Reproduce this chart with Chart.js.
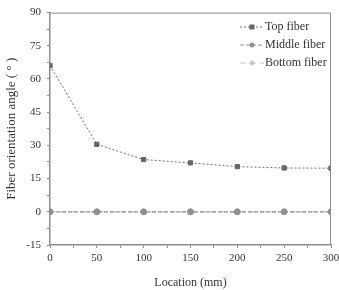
<!DOCTYPE html>
<html>
<head>
<meta charset="utf-8">
<script src="https://cdn.jsdelivr.net/npm/chart.js@4/dist/chart.umd.min.js"></script>
<style>
  html, body { margin: 0; padding: 0; background: #fff; }
  #wrap { width: 339px; height: 290px; position: relative; }
</style>
</head>
<body>
<div id="wrap"><canvas id="chart"></canvas></div>
<script>
// Data
const locations = [0, 50, 100, 150, 200, 250, 300];
const topFiber = [66.1, 30.5, 23.6, 22.1, 20.4, 19.8, 19.7];
const middleFiber = [0, 0, 0, 0, 0, 0, 0];
const bottomFiber = [0, 0, 0, 0, 0, 0, 0];
const seriesNames = ['Top fiber', 'Middle fiber', 'Bottom fiber'];
const xTickLabels = [0, 50, 100, 150, 200, 250, 300];
const yTickLabels = [-15, 0, 15, 30, 45, 60, 75, 90];

const FONT = '"Liberation Serif", "Times New Roman", serif';
const AXIS_COLOR = '#8c8c8c';
const TEXT_COLOR = '#333';

const STYLES = [
  { color: '#707070', marker: 'rect', dash: [2, 2], pointColor: '#666', radius: 3 },
  { color: '#909090', marker: 'circle', dash: [4, 2], pointColor: '#909090', radius: 3 },
  { color: '#c4c4c4', marker: 'rectRot', dash: [6, 4], pointColor: '#c4c4c4', radius: 3 },
];

function toPoints(values) {
  return locations.map((x, i) => ({ x, y: values[i] }));
}

const seriesValues = [topFiber, middleFiber, bottomFiber];

// Box around the plot plus a legend inside the top-right corner
const framePlugin = {
  id: 'frame',
  afterDraw(chart) {
    const { ctx, chartArea: a } = chart;
    ctx.save();
    ctx.strokeStyle = AXIS_COLOR;
    ctx.lineWidth = 1;
    ctx.beginPath();
    ctx.moveTo(a.left, a.top + 0.5);
    ctx.lineTo(a.right - 0.5, a.top + 0.5);
    ctx.lineTo(a.right - 0.5, a.bottom);
    ctx.stroke();

    // legend
    ctx.font = '12px ' + FONT;
    ctx.textBaseline = 'middle';
    ctx.textAlign = 'left';
    const textX = a.right - 66;
    seriesNames.forEach((name, i) => {
      const st = STYLES[i];
      const y = 27 + i * 18;
      ctx.strokeStyle = st.color;
      ctx.lineWidth = 1;
      ctx.setLineDash(st.dash);
      ctx.beginPath();
      ctx.moveTo(textX - 25, y);
      ctx.lineTo(textX - 1, y);
      ctx.stroke();
      ctx.setLineDash([]);
      ctx.fillStyle = st.pointColor;
      const mx = textX - 13;
      if (st.marker === 'rect') ctx.fillRect(mx - 2.5, y - 2.5, 5, 5);
      else if (st.marker === 'circle') { ctx.beginPath(); ctx.arc(mx, y, 2.5, 0, Math.PI * 2); ctx.fill(); }
      else { ctx.beginPath(); ctx.moveTo(mx, y - 3); ctx.lineTo(mx + 3, y); ctx.lineTo(mx, y + 3); ctx.lineTo(mx - 3, y); ctx.closePath(); ctx.fill(); }
      ctx.fillStyle = TEXT_COLOR;
      ctx.fillText(name, textX, y);
    });
    ctx.restore();
  },
};

new Chart(document.getElementById('chart'), {
  type: 'line',
  data: {
    datasets: seriesNames.map((name, i) => ({
      label: name,
      data: toPoints(seriesValues[i]),
      borderColor: STYLES[i].color,
      borderWidth: i === 1 ? 1.3 : 1,
      borderDash: STYLES[i].dash,
      pointStyle: STYLES[i].marker,
      pointRadius: STYLES[i].radius,
      pointBackgroundColor: STYLES[i].pointColor,
      pointBorderColor: STYLES[i].pointColor,
      pointBorderWidth: 1,
      tension: 0,
      order: i === 1 ? 0 : (i === 0 ? 1 : 2),
    })),
  },
  options: {
    responsive: true,
    maintainAspectRatio: false,
    animation: false,
    layout: { padding: { top: 10, right: 8, left: 0, bottom: 0 } },
    plugins: {
      legend: { display: false },
      tooltip: { enabled: false },
    },
    scales: {
      x: {
        type: 'linear',
        min: xTickLabels[0],
        max: xTickLabels[xTickLabels.length - 1],
        afterFit: s => { s.height = 45; s.paddingRight = 0; s.paddingLeft = 0; },
        ticks: {
          stepSize: 25,
          autoSkip: false,
          maxRotation: 0,
          color: TEXT_COLOR,
          padding: 4,
          font: { family: FONT, size: 11 },
          callback: v => (xTickLabels.includes(v) ? v : ''),
        },
        grid: { display: true, drawOnChartArea: false, tickLength: 3, color: AXIS_COLOR },
        border: { color: AXIS_COLOR, width: 1.5 },
        title: {
          display: true,
          text: 'Location (mm)',
          color: TEXT_COLOR,
          font: { family: FONT, size: 12 },
          padding: { top: 18, bottom: 0 },
        },
      },
      y: {
        min: yTickLabels[0],
        max: yTickLabels[yTickLabels.length - 1],
        afterFit: s => { s.width = 50; },
        ticks: {
          stepSize: 7.5,
          autoSkip: false,
          color: TEXT_COLOR,
          padding: 6,
          font: { family: FONT, size: 11 },
          callback: v => (yTickLabels.includes(v) ? v : ''),
        },
        grid: { display: true, drawOnChartArea: false, tickLength: 3, color: AXIS_COLOR },
        border: { color: AXIS_COLOR, width: 1.5 },
        title: {
          display: true,
          text: 'Fiber orientation angle ( ° )',
          color: TEXT_COLOR,
          font: { family: FONT, size: 13 },
          padding: { bottom: 4 },
        },
      },
    },
  },
  plugins: [framePlugin],
});
</script>
</body>
</html>
